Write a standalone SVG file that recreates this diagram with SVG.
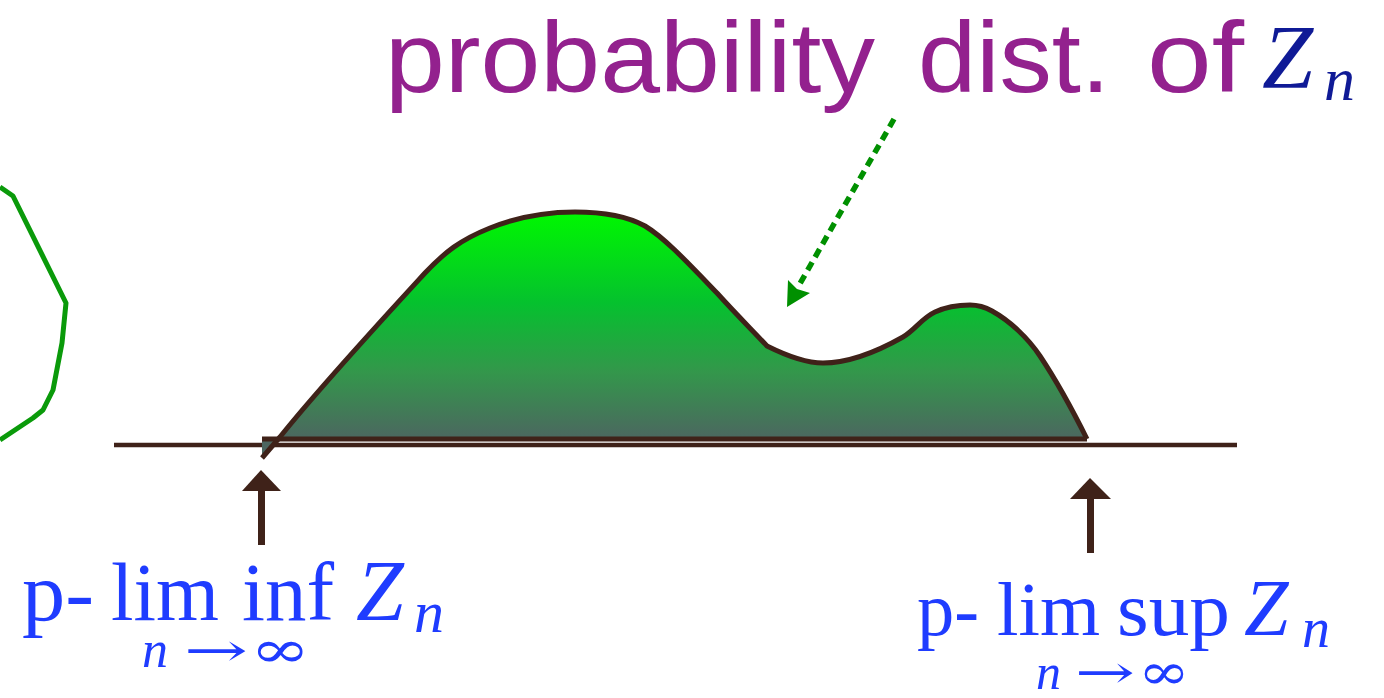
<svg xmlns="http://www.w3.org/2000/svg" width="1384" height="698" viewBox="0 0 1384 698">
<defs>
<linearGradient id="hill" gradientUnits="userSpaceOnUse" x1="0" y1="212" x2="0" y2="440">
<stop offset="0" stop-color="#00f800"/>
<stop offset="0.4" stop-color="#05c12e"/>
<stop offset="0.7" stop-color="#33974b"/>
<stop offset="1" stop-color="#4c6660"/>
</linearGradient>
<style>
.brown{stroke:#3f2219;fill:none;}
.lbl{font-family:"Liberation Serif",serif;fill:#1f3cff;}
.sym{font-family:"DejaVu Serif",serif;fill:#1f3cff;}
.it{font-style:italic;}
.title{font-family:"Liberation Sans",Arial,sans-serif;fill:#93218e;font-size:100px;}
</style>
</defs>
<rect width="1384" height="698" fill="#ffffff"/>

<g id="blob">
<path d="M0,187 L13,196 L66,303 L62,343 L53,390 L43,410 L33,418 L0,440" fill="none" stroke="#0a9a0a" stroke-width="5" stroke-linejoin="round"/>
</g>

<g id="axis">
<line x1="114" y1="445" x2="1237" y2="445" class="brown" stroke-width="4.5"/>
</g>

<g id="distribution">
<path d="M262,438 L262,458 L280,437 C320,387 380,322 425,273 C445,252 460,240 490,228 C520,216 550,212 575,212 C600,212 625,215 645,226 C665,238 690,265 717,293 C735,313 752,330 767,346 C785,355 805,363 823,363 C850,363 880,350 903,337 C915,330 922,318 935,312 C948,306 958,305 970,305 C978,305 985,307 992,311 C1010,321 1028,338 1040,356 C1058,383 1075,415 1087,439 Z" fill="url(#hill)"/>
<path d="M262,458 L280,437 C320,387 380,322 425,273 C445,252 460,240 490,228 C520,216 550,212 575,212 C600,212 625,215 645,226 C665,238 690,265 717,293 C735,313 752,330 767,346 C785,355 805,363 823,363 C850,363 880,350 903,337 C915,330 922,318 935,312 C948,306 958,305 970,305 C978,305 985,307 992,311 C1010,321 1028,338 1040,356 C1058,383 1075,415 1087,439" class="brown" stroke-width="5" stroke-linejoin="round"/>
<line x1="262" y1="439" x2="1087" y2="439" class="brown" stroke-width="5"/>
</g>

<g id="title">
<text class="title" x="385" y="92" textLength="490" lengthAdjust="spacingAndGlyphs">probability</text>
<text class="title" x="918" y="92" textLength="192" lengthAdjust="spacingAndGlyphs">dist.</text>
<text class="title" x="1147" y="92" textLength="97" lengthAdjust="spacingAndGlyphs">of</text>
<text x="1262" y="88" font-family="Liberation Serif,serif" font-style="italic" font-size="92" fill="#0f1a96">Z</text>
<text x="1324" y="100" font-family="Liberation Serif,serif" font-style="italic" font-size="62" fill="#0f1a96">n</text>
</g>

<g id="label-liminf">
<text class="lbl" x="22" y="620" font-size="82" textLength="72" lengthAdjust="spacingAndGlyphs">p-</text>
<text class="lbl" x="111" y="620" font-size="82" textLength="108" lengthAdjust="spacingAndGlyphs">lim</text>
<text class="lbl" x="242" y="620" font-size="82" textLength="92" lengthAdjust="spacingAndGlyphs">inf</text>
<text class="lbl it" x="356" y="620" font-size="86">Z</text>
<text class="lbl it" x="414" y="632" font-size="60">n</text>
<text class="lbl it" x="142" y="667" font-size="52">n</text>
<text class="sym" x="184" y="666" font-size="46" textLength="64" lengthAdjust="spacingAndGlyphs">→</text>
<text class="sym" x="250" y="667" font-size="52" textLength="60" lengthAdjust="spacingAndGlyphs">∞</text>
</g>

<g id="label-limsup">
<text class="lbl" x="917" y="635" font-size="76" textLength="62" lengthAdjust="spacingAndGlyphs">p-</text>
<text class="lbl" x="997" y="635" font-size="76" textLength="103" lengthAdjust="spacingAndGlyphs">lim</text>
<text class="lbl" x="1117" y="635" font-size="76" textLength="113" lengthAdjust="spacingAndGlyphs">sup</text>
<text class="lbl it" x="1244" y="635" font-size="80">Z</text>
<text class="lbl it" x="1302" y="647" font-size="56">n</text>
<text class="lbl it" x="1036" y="689" font-size="50">n</text>
<text class="sym" x="1075" y="688" font-size="46" textLength="60" lengthAdjust="spacingAndGlyphs">→</text>
<text class="sym" x="1138" y="689" font-size="50" textLength="52" lengthAdjust="spacingAndGlyphs">∞</text>
</g>

<g id="connectors">
<line x1="894" y1="119" x2="798" y2="287" stroke="#009000" stroke-width="5.5" stroke-dasharray="9 6"/>
<polygon points="787,307 788,280 797,289 810,293" fill="#009000"/>
<rect x="258" y="489" width="7" height="56" fill="#3f2219"/>
<polygon points="261,470 242,491 281,491" fill="#3f2219"/>
<rect x="1087" y="497" width="7" height="56" fill="#3f2219"/>
<polygon points="1090,478 1070,499 1111,499" fill="#3f2219"/>
</g>
</svg>
